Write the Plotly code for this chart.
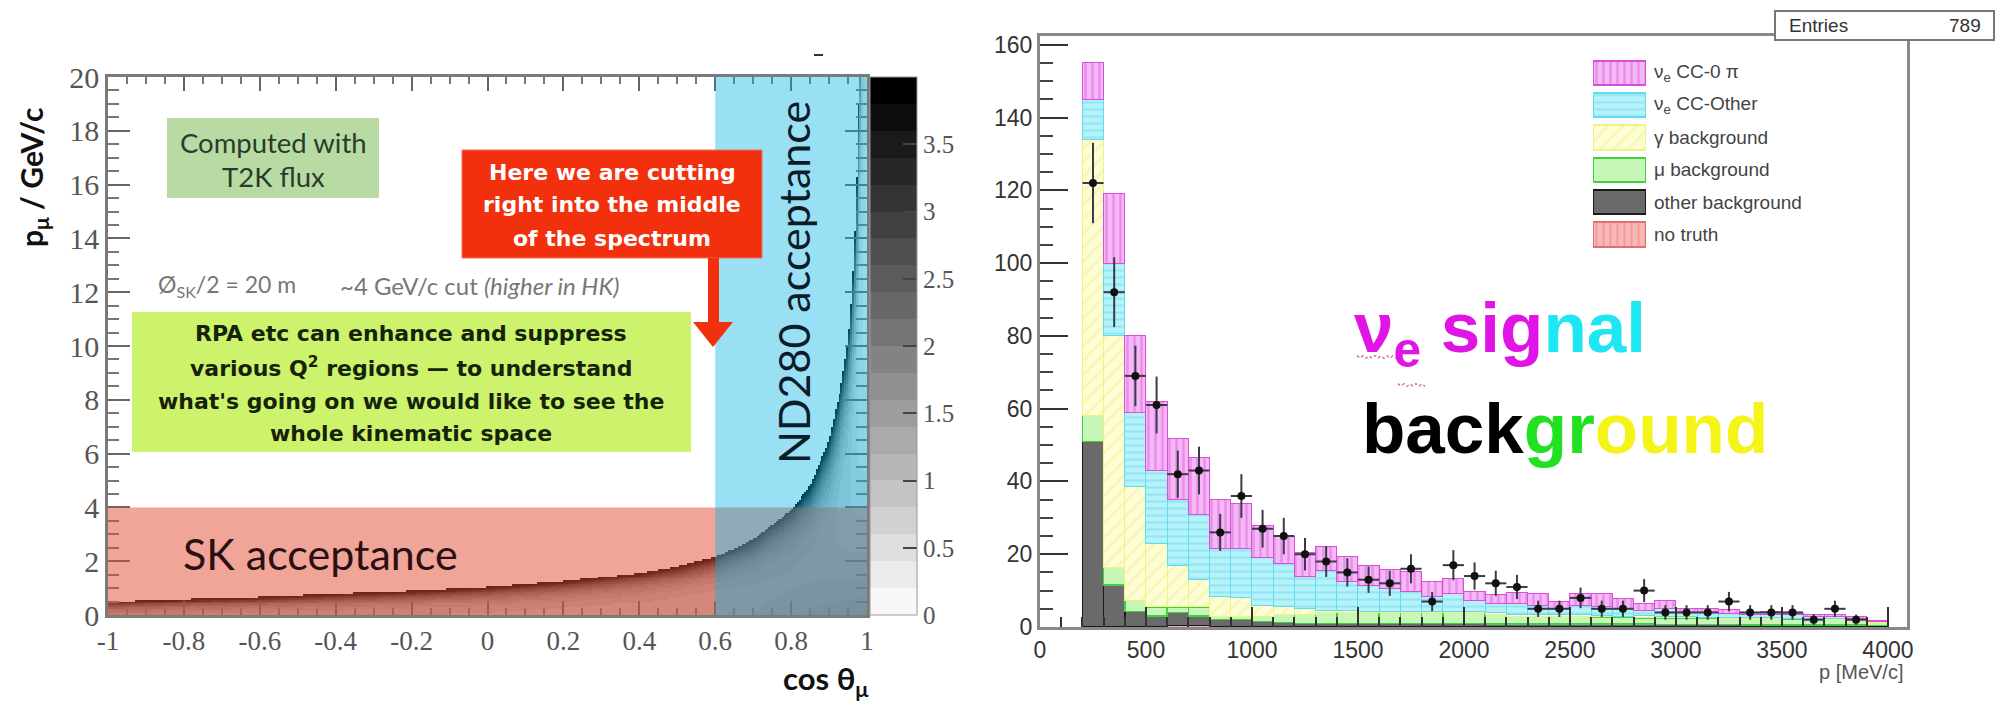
import numpy as np
import plotly.graph_objects as go

W, H = 2002, 705
def PX(x): return x / W
def PY(y): return 1 - y / H

# ---------------- Left panel data ----------------
edge_cos = [-1.0, -0.8, -0.6, -0.4, -0.2, 0.0, 0.2, 0.4, 0.5, 0.6, 0.7, 0.8, 0.85, 0.9, 0.93, 0.95, 0.96, 0.97, 0.975, 0.98, 1.0]
edge_p = [0.5, 0.6, 0.68, 0.8, 0.9, 1.04, 1.25, 1.56, 1.8, 2.15, 2.8, 3.9, 4.8, 6.5, 8.4, 10.2, 12.0, 15.0, 17.5, 20.5, 40.0]
ridge_peak = 3.9
bg_cos = [-1.0, 0.6, 0.9, 1.0]
bg_level = [0.8, 0.8, 1.3, 1.4]
bg_scale = 4.0

cos_ticks = [-1, -0.8, -0.6, -0.4, -0.2, 0, 0.2, 0.4, 0.6, 0.8, 1]
cos_labels = ["-1", "-0.8", "-0.6", "-0.4", "-0.2", "0", "0.2", "0.4", "0.6", "0.8", "1"]
p_ticks = [0, 2, 4, 6, 8, 10, 12, 14, 16, 18, 20]
p_labels = [str(v) for v in p_ticks]
cbar_ticks = [0, 0.5, 1, 1.5, 2, 2.5, 3, 3.5]
cbar_labels = ["0", "0.5", "1", "1.5", "2", "2.5", "3", "3.5"]

# ---------------- Right panel data ----------------
bin_low = list(range(200, 4000, 100))  # 38 bins of 100 MeV/c
n_notruth = [0, 0, 0, 0, 0.4, 0.4] + [0] * 32
n_other = [51, 11.5, 4.2, 3, 3.6, 2.6, 2, 2, 1.5, 1.2, 1, 1, 1, 1, 1, 1, 1, 1, 1,
           0.8, 0.8, 0.8, 0.8, 0.8, 0.8, 0.8, 0.8, 0.7, 0.7, 0.7, 0.7, 0.6, 0.6, 0.6, 0.6, 0.5, 0.5, 0.4]
n_mu = [7.2, 4.9, 3.2, 2.5, 1.5, 2.5, 1, 1, 1.5, 2.3, 2.5, 3, 3, 3, 3, 3, 3, 3, 3,
        2.7, 2.2, 2.2, 2.2, 2.2, 2, 2, 1.7, 1.8, 1.8, 1.8, 1.7, 1.7, 1.7, 1.6, 1.4, 1.5, 1.3, 0.9]
n_gamma = [75.8, 63.6, 31.1, 17.5, 11.5, 7.5, 5.5, 5, 3, 2, 1.5, 0.5, 0.5, 0.2, 0.2, 0.2, 0.2, 0.2, 0.2,
           0.5, 0.5, 0.3, 0.3, 0.5, 0.3, 0.2, 0.7, 0.3, 0.3, 0.2, 0.2, 0.2, 0.2, 0.2, 0.4, 0.2, 0.2, 0.1]
n_ccother = [11, 20, 20.5, 20, 18, 18, 13.1, 13.6, 13, 12, 9, 11, 8, 7.3, 6.4, 5.5, 4.1, 5, 3.2,
             2.5, 3, 2.7, 1.7, 2.5, 2.4, 2, 1.3, 2.2, 1.2, 1.3, 1.2, 1.0, 1.0, 0.9, 0.6, 0.8, 0.2, 0.2]
n_cc0pi = [10, 19, 21, 19, 16.7, 15.5, 13.3, 12.4, 9, 7.3, 6.5, 6.5, 6.8, 5.5, 5.1, 5.5, 4.2, 4.2, 2.3,
           2.3, 3, 3.2, 2, 3.2, 3.7, 2.9, 2, 2.4, 1.1, 1.1, 0.9, 0.4, 0.7, 0.5, 0.3, 0.3, 0.6, 0.2]
n_data = [122, 92, 69, 61, 42, 43, 26, 36, 27, 25, 20, 18, 15, 13, 12, 16, 7, 17, 14,
          12, 11, 5, 5, 8, 5, 5, 10, 4, 4, 4, 7, 4, 4, 4, 2, 5, 2, None]
p_ticks_r = [0, 500, 1000, 1500, 2000, 2500, 3000, 3500, 4000]
n_ticks_r = [0, 20, 40, 60, 80, 100, 120, 140, 160]

legend_names = ["ν<sub>e</sub> CC-0 π", "ν<sub>e</sub> CC-Other", "γ background",
                "μ background", "other background", "no truth"]

# ---------------- Build figure ----------------
fig = go.Figure()

# heatmap grid built from the read ridge curve
nx, ny = 400, 280
xc = -1 + (np.arange(nx) + 0.5) * (2 / nx)
yc = (np.arange(ny) + 0.5) * (20 / ny)
edge = np.interp(xc, edge_cos, edge_p)[None, :]
bgl = np.interp(xc, bg_cos, bg_level)[None, :]
Y = yc[:, None]
wid = 0.15 + 0.17 * edge
z = ridge_peak * np.exp(-(edge - Y) / wid) + bgl * np.exp(-Y / bg_scale)
z = np.where(Y <= edge, np.minimum(z, 3.98), np.nan)
z = np.round(z, 2)

nlev = 20
cs = []
for i in range(nlev):
    g = int(round(248 - i * 248 / (nlev - 1)))
    c = f"rgb({g},{g},{g})"
    cs.append([i / nlev, c])
    cs.append([(i + 1) / nlev, c])

fig.add_trace(go.Heatmap(
    z=z, x0=xc[0], dx=2 / nx, y0=yc[0], dy=20 / ny,
    zmin=0, zmax=4, colorscale=cs, zsmooth=False, hoverinfo="skip",
    xaxis="x", yaxis="y",
    colorbar=dict(x=PX(870), xanchor="left", xpad=0, y=PY(615), yanchor="bottom", ypad=0,
                  len=538, lenmode="pixels", thickness=47, thicknessmode="pixels",
                  outlinewidth=1, outlinecolor="#999",
                  tickmode="array", tickvals=cbar_ticks, ticktext=cbar_labels,
                  ticks="inside", ticklen=14, tickwidth=2, tickcolor="#444",
                  tickfont=dict(family="Liberation Serif", size=25, color="#555")),
))

# histogram stack
centers = [b + 50 for b in bin_low]
stack = [
    ("no truth", n_notruth, dict(color="#f8b0b0", line=dict(color="#e07070", width=1),
                                  pattern=dict(shape="|", fgcolor="#e88080", bgcolor="#f8b8b8", size=7, solidity=0.3))),
    ("other background", n_other, dict(color="#6a6a6a", line=dict(color="#1a1a1a", width=1.5))),
    ("μ background", n_mu, dict(color="#c6f6b8", line=dict(color="#40d040", width=1.5))),
    ("γ background", n_gamma, dict(color="#fdfdd0", line=dict(color="#f2f280", width=1),
                                    pattern=dict(shape="/", fgcolor="#f2f29a", bgcolor="#fdfdd6", size=10, solidity=0.3))),
    ("νe CC-Other", n_ccother, dict(color="#b4f2f8", line=dict(color="#60dcee", width=1),
                                    pattern=dict(shape="-", fgcolor="#6ed8ec", bgcolor="#b6f2fa", size=7, solidity=0.3))),
    ("νe CC-0π", n_cc0pi, dict(color="#f4b4f4", line=dict(color="#d850d8", width=1),
                                pattern=dict(shape="|", fgcolor="#e060e0", bgcolor="#f4b8f4", size=7, solidity=0.35))),
]
for name, vals, mk in stack:
    fig.add_trace(go.Bar(x=centers, y=vals, width=100, marker=mk, name=name,
                         xaxis="x2", yaxis="y2", showlegend=False, hoverinfo="skip"))

dx_c, dy_v, err = [], [], []
for c, v in zip(centers, n_data):
    if v is not None:
        dx_c.append(c); dy_v.append(v); err.append(np.sqrt(v))
fig.add_trace(go.Scatter(x=dx_c, y=dy_v, mode="markers", xaxis="x2", yaxis="y2",
                         marker=dict(color="#111", size=8, symbol="circle"),
                         error_y=dict(type="data", array=err, color="#3a3a4a", thickness=2, width=0),
                         error_x=dict(type="constant", value=50, color="#3a3a4a", thickness=2, width=0),
                         showlegend=False, hoverinfo="skip"))

# legend swatches (drawn as bars on a hidden axis)
sw_styles = [stack[5][2], stack[4][2], stack[3][2], stack[2][2], stack[1][2], stack[0][2]]
for i, mk in enumerate(sw_styles):
    mk2 = dict(mk)
    mk2["line"] = dict(color=mk["line"]["color"], width=2)
    fig.add_trace(go.Bar(x=[1], y=[i], orientation="h", width=0.76, marker=mk2,
                         xaxis="x3", yaxis="y3", showlegend=False, hoverinfo="skip"))

# ---------------- shapes ----------------
shapes = []
shapes.append(dict(type="rect", xref="x", yref="y", x0=-1, x1=1, y0=0, y1=4,
                   fillcolor="rgba(225,75,50,0.5)", line=dict(width=0), layer="above"))
shapes.append(dict(type="rect", xref="x", yref="y", x0=0.6, x1=1, y0=0, y1=20,
                   fillcolor="rgba(0,177,230,0.4)", line=dict(width=0), layer="above"))
shapes.append(dict(type="rect", xref="paper", yref="paper", x0=PX(167), x1=PX(379), y0=PY(198), y1=PY(118),
                   fillcolor="#b8dba4", line=dict(width=0), layer="above"))
shapes.append(dict(type="rect", xref="paper", yref="paper", x0=PX(132), x1=PX(691), y0=PY(452), y1=PY(312),
                   fillcolor="#cdf26c", line=dict(width=0), layer="above"))
shapes.append(dict(type="rect", xref="paper", yref="paper", x0=PX(462), x1=PX(762), y0=PY(258), y1=PY(150),
                   fillcolor="#f2300e", line=dict(color="#f07060", width=1), layer="above"))
shapes.append(dict(type="rect", xref="paper", yref="paper", x0=PX(708), x1=PX(719), y0=PY(324), y1=PY(258),
                   fillcolor="#f2300e", line=dict(width=0), layer="above"))
shapes.append(dict(type="path", xref="paper", yref="paper",
                   path=f"M {PX(693)},{PY(322)} L {PX(733)},{PY(322)} L {PX(713)},{PY(347)} Z",
                   fillcolor="#f2300e", line=dict(width=0), layer="above"))
shapes.append(dict(type="line", xref="paper", yref="paper", x0=PX(814), x1=PX(823), y0=PY(55), y1=PY(55),
                   line=dict(color="#333", width=2)))
shapes.append(dict(type="rect", xref="paper", yref="paper", x0=PX(1775), x1=PX(1994), y0=PY(40), y1=PY(11),
                   fillcolor="white", line=dict(color="#777", width=2), layer="above"))
def squiggle(xa, xb, yb):
    pts = []
    x = xa; k = 0
    while x <= xb:
        pts.append((x, yb + (1.5 if k % 2 else -1.5)))
        x += 3; k += 1
    return "M " + " L ".join(f"{PX(a)},{PY(b)}" for a, b in pts)
shapes.append(dict(type="path", xref="paper", yref="paper", path=squiggle(1357, 1402, 357),
                   line=dict(color="#d86060", width=1.2, dash="dot")))
shapes.append(dict(type="path", xref="paper", yref="paper", path=squiggle(1398, 1426, 385),
                   line=dict(color="#d86060", width=1.2, dash="dot")))

# ---------------- annotations ----------------
ann = []
def A(text, x, y, size, color="#111", family="Lato", xanchor="center", yanchor="middle", angle=0):
    ann.append(dict(text=text, xref="paper", yref="paper", x=PX(x), y=PY(y), showarrow=False,
                    xanchor=xanchor, yanchor=yanchor, textangle=angle,
                    font=dict(family=family, size=size, color=color)))

A("<b>p<sub>μ</sub> / GeV/c</b>", 33, 178, 30, angle=-90)
A("<b>cos θ<sub>μ</sub></b>", 826, 704, 31, yanchor="bottom")
A("Computed with", 273, 142, 27.5, color="#2b3b2b")
A("T2K flux", 273, 176, 27.5, color="#2b3b2b")
A("Ø<sub>SK</sub>/2 = 20 m", 156, 285, 23, color="#777", xanchor="left")
A("~4 GeV/c cut <i>(higher in HK)</i>", 338, 285, 24, color="#777", xanchor="left")
for t, yy in zip(["RPA etc can enhance and suppress", "various Q<sup>2</sup> regions — to understand",
                  "what's going on we would like to see the", "whole kinematic space"],
                 [333, 367, 401, 433]):
    A("<b>" + t + "</b>", 411, yy, 22, color="#16220a", family="DejaVu Sans")
for t, yy in zip(["Here we are cutting", "right into the middle", "of the spectrum"], [172, 205, 239]):
    A("<b>" + t + "</b>", 612, yy, 22, color="white", family="DejaVu Sans")
A("SK acceptance", 320, 553, 43, color="#2a1010")
A("ND280 acceptance", 793, 283, 43, color="#0c1c28", angle=-90)

A("Entries", 1787, 25, 19, color="#333", family="Liberation Sans", xanchor="left")
A("789", 1983, 25, 19, color="#333", family="Liberation Sans", xanchor="right")
A("p [MeV/c]", 1905, 672, 20, color="#555", family="Liberation Sans", xanchor="right")
for i, t in enumerate(legend_names):
    A(t, 1652, 73 + 32.3 * i, 19, color="#444", family="Liberation Sans", xanchor="left")

A("<b>ν<sub>e</sub> sig<span style='color:#1ee6f2'>nal</span></b>", 1352, 286, 71,
  color="#e014e4", family="Liberation Sans", xanchor="left", yanchor="top")
A("<b>back<span style='color:#22e022'>gr</span><span style='color:#f4f418'>ound</span></b>", 1360, 387, 71,
  color="#000", family="Liberation Sans", xanchor="left", yanchor="top")

# ---------------- axes ----------------
serif = "Liberation Serif"
sans = "Liberation Sans"
fig.update_layout(
    width=W, height=H, margin=dict(l=0, r=0, t=0, b=0, autoexpand=False),
    paper_bgcolor="white", plot_bgcolor="white", barmode="stack", showlegend=False,
    xaxis=dict(domain=[PX(108), PX(867)], range=[-1, 1], anchor="y", automargin=False,
               showline=True, linecolor="#7a7a7a", linewidth=2.5, mirror="ticks",
               ticks="inside", ticklen=14, tickwidth=2, tickcolor="#666",
               tickmode="array", tickvals=cos_ticks, ticktext=cos_labels,
               tickfont=dict(family=serif, size=27, color="#555"),
               minor=dict(tickmode="linear", tick0=-1, dtick=0.05, ticks="inside", ticklen=7,
                          tickwidth=1.5, tickcolor="#777"),
               showgrid=False, zeroline=False),
    yaxis=dict(domain=[PY(615), PY(77)], range=[0, 20], anchor="x", automargin=False,
               showline=True, linecolor="#7a7a7a", linewidth=2.5, mirror="ticks",
               ticks="inside", ticklen=22, tickwidth=2, tickcolor="#666",
               tickmode="array", tickvals=p_ticks, ticktext=p_labels,
               tickfont=dict(family=serif, size=30, color="#555"),
               minor=dict(tickmode="linear", tick0=0, dtick=0.5, ticks="inside", ticklen=11,
                          tickwidth=1.5, tickcolor="#777"),
               showgrid=False, zeroline=False),
    xaxis2=dict(domain=[PX(1040), PX(1907)], range=[0, 4090], anchor="y2", automargin=False,
                showline=True, linecolor="#888", linewidth=3, mirror=True,
                ticks="inside", ticklen=20, tickwidth=2, tickcolor="#333",
                tickmode="array", tickvals=p_ticks_r, ticktext=[str(v) for v in p_ticks_r],
                tickfont=dict(family=sans, size=23, color="#333"),
                minor=dict(tickmode="linear", tick0=0, dtick=100, ticks="inside", ticklen=10,
                           tickwidth=1.5, tickcolor="#333"),
                showgrid=False, zeroline=False),
    yaxis2=dict(domain=[PY(627), PY(36)], range=[0, 162.4], anchor="x2", automargin=False,
                showline=True, linecolor="#888", linewidth=3, mirror=True,
                ticks="inside", ticklen=28, tickwidth=2, tickcolor="#333",
                tickmode="array", tickvals=n_ticks_r, ticktext=[str(v) for v in n_ticks_r],
                tickfont=dict(family=sans, size=23, color="#333"),
                minor=dict(tickmode="linear", tick0=0, dtick=5, ticks="inside", ticklen=13,
                           tickwidth=1.5, tickcolor="#444"),
                showgrid=False, zeroline=False),
    xaxis3=dict(domain=[PX(1593), PX(1646)], range=[0, 1], anchor="y3", visible=False, fixedrange=True),
    yaxis3=dict(domain=[PY(250.5), PY(56.8)], range=[5.5, -0.5], anchor="x3", visible=False, fixedrange=True),
    shapes=shapes, annotations=ann,
)

fig.write_html("out.html", config={"displayModeBar": False},
               post_script="document.body.style.margin='0px'; document.body.style.overflow='hidden';")
